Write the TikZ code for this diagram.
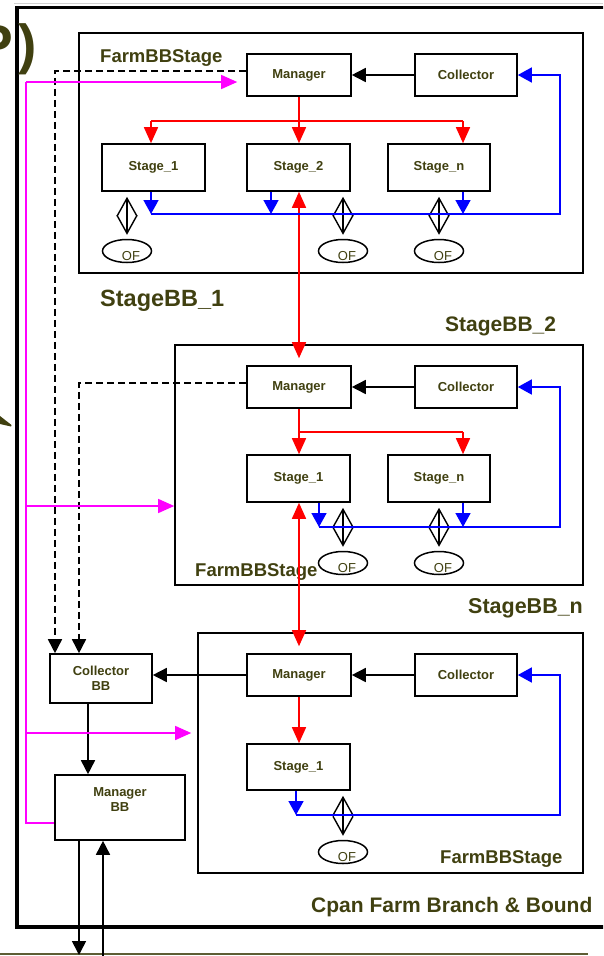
\documentclass[tikz,border=0pt]{standalone}
\usepackage{fontspec}
\setmainfont{Liberation Sans}
\usetikzlibrary{arrows.meta,shapes.geometric,calc}
\definecolor{ink}{RGB}{64,64,16}
\definecolor{busblue}{RGB}{0,0,255}
\definecolor{busred}{RGB}{255,0,0}
\definecolor{feed}{RGB}{255,0,255}

\begin{document}
\begin{tikzpicture}[x=1pt,y=-1pt,
  box/.style={draw,line width=1.6pt,minimum width=102pt,minimum height=42pt,inner sep=0pt,
    font=\fontsize{13}{15}\selectfont\bfseries,text=ink,align=center},
  stagebox/.style={box,minimum width=103pt,minimum height=47pt},
  frame/.style={draw,line width=1.6pt,inner sep=0pt},
  title/.style={anchor=base west,inner sep=0pt,font=\fontsize{18.5}{20}\selectfont\bfseries,text=ink},
  bigtitle/.style={title,font=\fontsize{21}{24}\selectfont\bfseries},
  ofell/.style={draw,ellipse,line width=1.5pt,minimum width=49pt,minimum height=23pt,inner sep=0pt},
  oftext/.style={inner sep=0pt,font=\fontsize{13}{14}\selectfont,text=ink},
  tipK/.tip={Triangle[length=14pt,width=14pt]},
  tipR/.tip={Triangle[length=16pt,width=14pt]},
  tipB/.tip={Triangle[length=14pt,width=15pt]},
  tipM/.tip={Triangle[length=16pt,width=14pt]},
  blk/.style={line width=1.6pt,black},
  dashline/.style={line width=1.6pt,black,dash pattern=on 7pt off 4pt},
  redline/.style={line width=1.6pt,busred},
  blueline/.style={line width=1.6pt,busblue},
  mag/.style={line width=1.4pt,feed},
  oflink/.style={line width=1.4pt,
    {Straight Barb[length=18pt,width=20pt]}-{Straight Barb[length=18pt,width=20pt]},
    shorten <=5pt,shorten >=4pt},
]
\useasboundingbox (0,0) rectangle (603,956);
\clip (0,0) rectangle (603,956);

% outer frame and page rules
\draw[gray!35,line width=1.2pt] (14,3.5) -- (603,3.5);
\draw[line width=3.5pt] (17,7.5) rectangle (640,927);
\draw[ink!85,line width=1.4pt] (0,954) -- (588,954);
\node[anchor=base east,inner sep=0pt,font=\fontsize{55}{60}\selectfont\bfseries,text=ink] (tag) at (37.5,63) {P\kern6pt)};
\fill[ink] (0,416) -- (11.5,425) -- (11,426.5) -- (0,424) -- cycle;

% stage frames
\node[frame,minimum width=504pt,minimum height=240pt] (f1) at (331,153) {};
\node[frame,minimum width=408pt,minimum height=240pt] (f2) at (379,465) {};
\node[frame,minimum width=385pt,minimum height=240pt] (f3) at (390.5,753) {};

% frame titles
\node[title] (t1) at (100,62.5) {FarmBBStage};
\node[title,font=\fontsize{23.5}{24}\selectfont\bfseries] (t2) at (100,306) {StageBB\_1};
\node[title,font=\fontsize{21}{24}\selectfont\bfseries] (t3) at (445,331) {StageBB\_2};
\node[title] (t4) at (195,576) {FarmBBStage};
\node[title,font=\fontsize{21.5}{24}\selectfont\bfseries] (t5) at (468,613) {StageBB\_n};
\node[title] (t6) at (440,863) {FarmBBStage};
\node[bigtitle] (t7) at (311,912) {Cpan Farm Branch \& Bound};

% managers and collectors
\node[box,minimum width=104pt] (m1) at (299,75) {Manager};
\node[box] (c1) at (466,75) {Collector};
\node[box,minimum width=104pt] (m2) at (299,387) {Manager};
\node[box] (c2) at (466,387) {Collector};
\node[box,minimum width=104pt] (m3) at (299,675) {Manager};
\node[box] (c3) at (466,675) {Collector};

% stages
\node[stagebox] (s11) at (153.5,167.5) {Stage\_1};
\node[stagebox] (s12) at (298.5,167.5) {Stage\_2};
\node[stagebox,minimum width=102pt] (s1n) at (439,167.5) {Stage\_n};
\node[stagebox] (s21) at (298.5,478.5) {Stage\_1};
\node[stagebox,minimum width=102pt] (s2n) at (439,478.5) {Stage\_n};
\node[stagebox,minimum height=46pt] (s31) at (298.5,767) {Stage\_1};

% branch and bound collector / manager
\node[box,minimum height=49pt] (cbb) at (101,678.5) {Collector\\BB};
\node[draw,line width=1.6pt,minimum width=130pt,minimum height=65pt,inner sep=0pt] (mbb) at (120,807.5) {};
\node[inner sep=0pt,font=\fontsize{13}{15}\selectfont\bfseries,text=ink,align=center] (mbbt) at (120,800) {Manager\\BB};

% OF objects
\node[ofell] (of11) at (127,251) {};
\node[ofell] (of12) at (343,251) {};
\node[ofell] (of1n) at (439,251) {};
\node[ofell] (of21) at (343,563) {};
\node[ofell] (of2n) at (439,563) {};
\node[ofell] (of31) at (343,852) {};
\foreach \o in {of11,of12,of1n,of21,of2n,of31}
  \node[oftext] at ($(\o.center)+(4,5)$) {OF};

\draw[oflink] (of11.north |- s11.south) -- (of11.north);
\draw[oflink] (of12.north |- s12.south) -- (of12.north);
\draw[oflink] (of1n.north |- s1n.south) -- (of1n.north);
\draw[oflink] (of21.north |- s21.south) -- (of21.north);
\draw[oflink] (of2n.north |- s2n.south) -- (of2n.north);
\draw[oflink] (of31.north |- s31.south) -- (of31.north);

% collector -> manager
\draw[blk,-tipK] (c1.west) -- (m1.east);
\draw[blk,-tipK] (c2.west) -- (m2.east);
\draw[blk,-tipK] (c3.west) -- (m3.east);
\draw[blk,-tipK] (m3.west) -- (m3.west -| cbb.east);
\coordinate (cbx) at (88,0);
\draw[blk,-tipK] (cbb.south -| cbx) -- (mbb.north -| cbx);
\coordinate (dnA) at (79,955);
\draw[blk,-tipK] (mbb.south -| dnA) -- (dnA);
\coordinate (upA) at (103,958);
\draw[blk,-tipK] (upA) -- (mbb.south -| upA);

% dashed result lines to the BB collector
\coordinate (dA) at (55,0);
\coordinate (dB) at (79,0);
\draw[dashline,-tipK] ($(m1.west)+(0,-4)$) -| (cbb.north -| dA);
\draw[dashline,-tipK] ($(m2.west)+(0,-4)$) -| (cbb.north -| dB);

% magenta feed from the BB manager
\coordinate (mg1) at (26,82);
\coordinate (mg2) at (26,506);
\coordinate (mg3) at (26,733);
\coordinate (mg4) at (26,823);
\draw[mag] (mg1) -- (mg4) -- (mg4 -| mbb.west);
\draw[mag,-tipM,shorten >=9pt] (mg1) -- (mg1 -| m1.west);
\draw[mag,-tipM] (mg2) -- (mg2 -| f2.west);
\draw[mag,-tipM,shorten >=6pt] (mg3) -- (mg3 -| f3.west);

% red task distribution
\coordinate (rb1L) at (151,121);
\coordinate (rb1R) at (463,121);
\draw[redline] (m1.south) -- (m1.south |- rb1L);
\draw[redline] (rb1L) -- (rb1R);
\draw[redline,-tipR] (rb1L) -- (rb1L |- s11.north);
\draw[redline,-tipR] (m1.south |- rb1L) -- (m1.south |- s12.north);
\draw[redline,-tipR] (rb1R) -- (rb1R |- s1n.north);
\draw[redline,tipR-tipR,shorten >=7pt] (m1.south |- s12.south) -- (m2.north);

\coordinate (rb2R) at (463,432);
\draw[redline] (m2.south) -- (m2.south |- rb2R) -- (rb2R);
\draw[redline,-tipR] (m2.south |- rb2R) -- (m2.south |- s21.north);
\draw[redline,-tipR] (rb2R) -- (rb2R |- s2n.north);
\draw[redline,tipR-tipR,shorten >=7pt] (m2.south |- s21.south) -- (m3.north);

\draw[redline,-tipR] (m3.south) -- (m3.south |- s31.north);

% blue result buses
\coordinate (bb1) at (560,214);
\coordinate (bb1a) at (151,214);
\coordinate (bb1b) at (271,214);
\coordinate (bb1c) at (463,214);
\draw[blueline,-tipB] (bb1a) -- (bb1) |- (c1.east);
\draw[blueline,-tipB] (bb1a |- s11.south) -- (bb1a);
\draw[blueline,-tipB] (bb1b |- s12.south) -- (bb1b);
\draw[blueline,-tipB] (bb1c |- s1n.south) -- (bb1c);

\coordinate (bb2) at (560,527);
\coordinate (bb2a) at (319,527);
\coordinate (bb2c) at (463,527);
\draw[blueline,-tipB] (bb2a) -- (bb2) |- (c2.east);
\draw[blueline,-tipB] (bb2a |- s21.south) -- (bb2a);
\draw[blueline,-tipB] (bb2c |- s2n.south) -- (bb2c);

\coordinate (bb3) at (560,815);
\coordinate (bb3a) at (296,815);
\draw[blueline,-tipB] (bb3a) -- (bb3) |- (c3.east);
\draw[blueline,-tipB] (bb3a |- s31.south) -- (bb3a);
\end{tikzpicture}
\end{document}
